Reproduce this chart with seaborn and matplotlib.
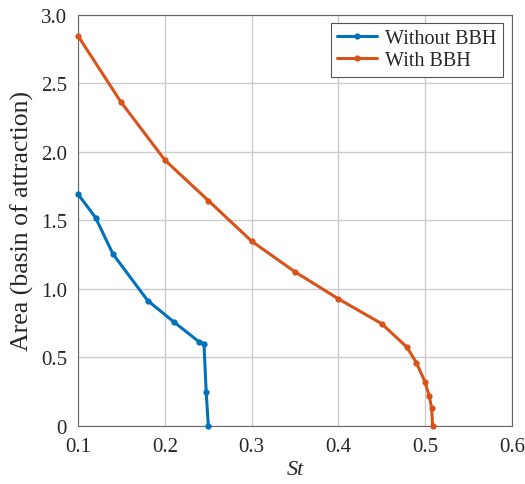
import pandas as pd
import seaborn as sns
import matplotlib.pyplot as plt

# Reference values
st_without = [0.1, 0.12, 0.14, 0.18, 0.21, 0.239, 0.245, 0.2475, 0.25]
area_without = [1.69, 1.52, 1.255, 0.915, 0.76, 0.615, 0.60, 0.25, 0.0]

st_with = [0.1, 0.149, 0.2, 0.25, 0.3, 0.35, 0.4, 0.45, 0.479, 0.49, 0.4997, 0.5047, 0.5075, 0.5086]
area_with = [2.845, 2.367, 1.94, 1.645, 1.348, 1.124, 0.927, 0.745, 0.574, 0.46, 0.323, 0.217, 0.129, 0.0]

series = ["Without BBH", "With BBH"]
colors = ["#0072BD", "#D95319"]
x_ticks = [0.1, 0.2, 0.3, 0.4, 0.5, 0.6]
y_ticks = [0, 0.5, 1.0, 1.5, 2.0, 2.5, 3.0]
y_labels = ["0", "0.5", "1.0", "1.5", "2.0", "2.5", "3.0"]

df = pd.concat(
    [
        pd.DataFrame({"St": st_without, "Area": area_without, "case": series[0]}),
        pd.DataFrame({"St": st_with, "Area": area_with, "case": series[1]}),
    ],
    ignore_index=True,
)

sns.set_style("whitegrid")
plt.rcParams["font.family"] = ["Liberation Serif", "DejaVu Serif"]

fig = plt.figure(figsize=(5.25, 4.85), dpi=100)
ax = fig.add_axes([0.149, 0.12, 0.826, 0.847])

ax = sns.lineplot(
    data=df,
    x="St",
    y="Area",
    hue="case",
    hue_order=series,
    palette=colors,
    sort=False,
    estimator=None,
    marker="o",
    markersize=4.5,
    markeredgewidth=0,
    linewidth=2.2,
    clip_on=False,
    zorder=5,
    ax=ax,
)

ax.set_xlim(0.1, 0.6)
ax.set_ylim(0, 3.0)
ax.set_xticks(x_ticks)
ax.set_xticklabels([f"{t:g}" for t in x_ticks])
ax.set_yticks(y_ticks)
ax.set_yticklabels(y_labels)
ax.tick_params(labelsize=15, direction="in", length=3, color="#666666")
ax.tick_params(axis="x", pad=8)
ax.tick_params(axis="y", pad=8)
ax.grid(color="#cccccc", linewidth=1.0)
for s in ax.spines.values():
    s.set_color("#666666")
    s.set_linewidth(0.8)

ax.set_xlabel("St", fontsize=16, style="italic", labelpad=3)
ax.set_ylabel("Area (basin of attraction)", fontsize=18.5, labelpad=5)

leg = ax.legend(
    loc="upper right",
    bbox_to_anchor=(0.979, 0.98),
    fontsize=14.5,
    frameon=True,
    fancybox=False,
    borderaxespad=0,
    handlelength=2.0,
    handletextpad=0.4,
    borderpad=0.3,
    labelspacing=0.15,
)
leg.get_frame().set_edgecolor("#555555")
leg.get_frame().set_linewidth(0.8)
leg.get_frame().set_alpha(1)

plt.savefig("out.png", dpi=100)
